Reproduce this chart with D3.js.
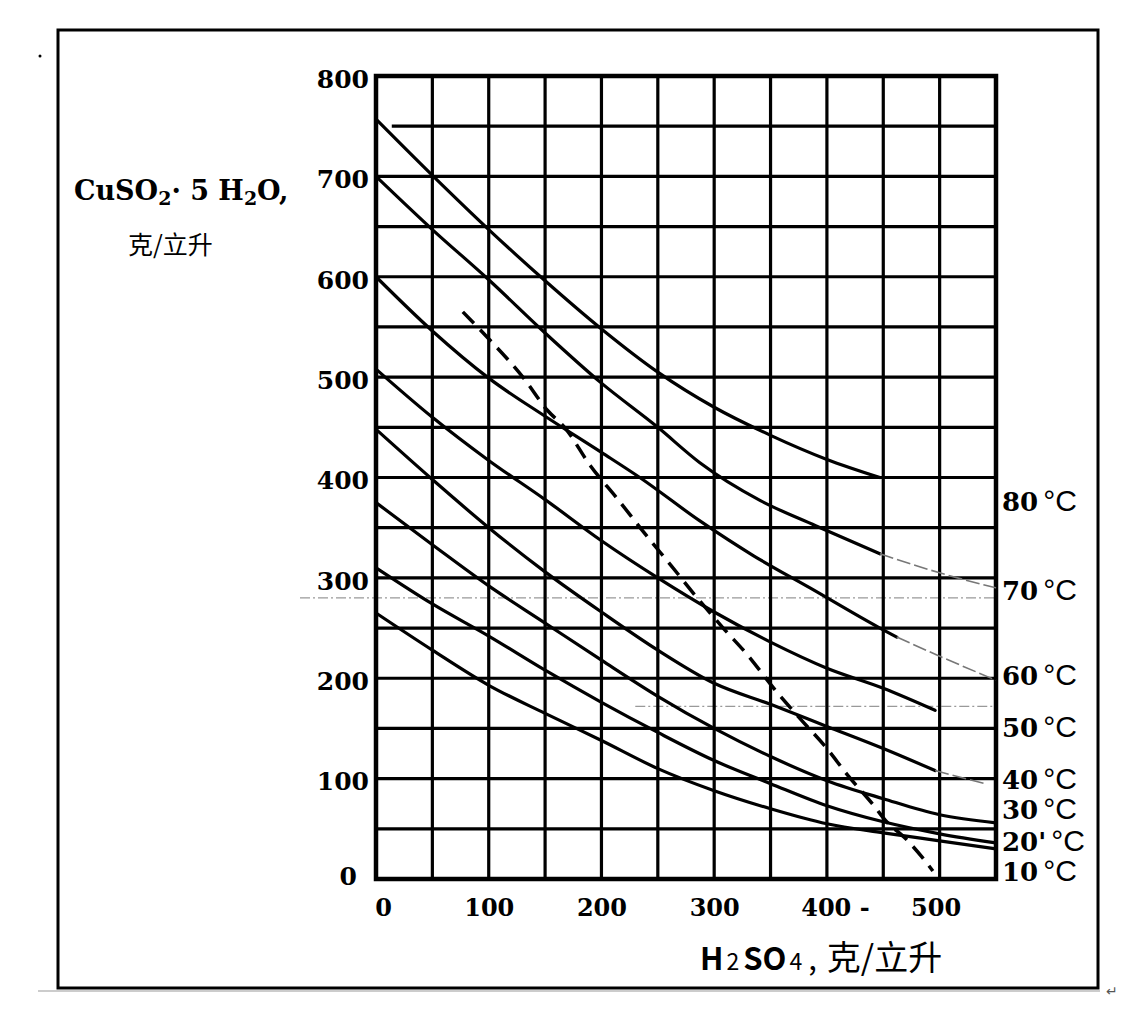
<!DOCTYPE html>
<html><head><meta charset="utf-8">
<script src="https://cdn.jsdelivr.net/npm/d3@7"></script>
<style>html,body{margin:0;padding:0;background:#fff;}svg{display:block;}</style>
</head><body>
<svg id="chart" width="1126" height="1016"></svg>
<script>
// ---- data (x: H2SO4 g/L, y: CuSO4·5H2O g/L) ----
const xTicks = [0, 100, 200, 300, 400, 500];
const xTickLabels = ["0", "100", "200", "300", "400 -", "500"];
const yTicks = [0, 100, 200, 300, 400, 500, 600, 700, 800];
const tempLabels = ["80", "70", "60", "50", "40", "30", "20'", "10"];
const tempLabelValues = [377, 288, 203, 151, 100, 70, 38, 8];

const c80 = [[0,757],[50,701],[100,647],[150,596],[200,548],[250,505],[300,470],[350,442],[400,418],[447,400]];
const c70 = [[0,700],[50,647],[100,597],[150,544],[200,494],[250,450],[287,415],[341,377],[390,352],[447,324]];
const c70tail = [[447,324],[500,305],[550,290]];
const c60 = [[0,600],[50,546],[100,499],[150,461],[200,425],[234,400],[287,357],[335,322],[385,290],[447,250],[462,241]];
const c60tail = [[462,241],[500,222],[550,198]];
const c50 = [[0,508],[50,460],[100,417],[150,378],[200,337],[250,300],[300,266],[350,236],[400,210],[450,190],[496,168]];
const c40 = [[0,448],[50,398],[100,350],[150,306],[200,266],[250,228],[300,195],[350,174],[400,152],[450,130],[496,108]];
const c40tail = [[496,108],[540,95]];
const c30 = [[0,375],[50,333],[100,292],[150,255],[200,218],[250,182],[300,150],[350,122],[400,98],[450,80],[500,64],[550,56]];
const c20 = [[0,310],[50,274],[100,242],[150,208],[200,176],[250,146],[300,118],[350,95],[400,73],[450,57],[500,45],[550,36]];
const c10 = [[0,265],[50,228],[100,193],[150,165],[200,138],[250,110],[300,88],[350,70],[400,55],[450,46],[500,38],[550,30]];
const limitCurve = [[77,565],[101,537],[131,499],[152,467],[168,449],[190,412],[214,379],[240,342],[262,312],[285,280],[308,250],[329,224],[355,187],[376,160],[400,130],[418,104],[441,74],[453,57],[470,40],[485,21],[494,8]];
const scanLines = [280, 172];

// ---- layout ----
const svg = d3.select("#chart");
const x = d3.scaleLinear().domain([0, 550]).range([376, 996]);
const y = d3.scaleLinear().domain([0, 800]).range([879, 76]);

// outer frame
svg.append("rect").attr("x", 58).attr("y", 30).attr("width", 1040).attr("height", 958)
  .attr("fill", "none").attr("stroke", "#000").attr("stroke-width", 3);
svg.append("line").attr("x1", 38).attr("x2", 1100).attr("y1", 991).attr("y2", 991)
  .attr("stroke", "#ccc").attr("stroke-width", 2);
svg.append("text").attr("x", 1106).attr("y", 996).attr("font-size", 14).attr("fill", "#555")
  .attr("font-family", "DejaVu Sans").text("↵");
svg.append("circle").attr("cx", 40).attr("cy", 56).attr("r", 1.5).attr("fill", "#000");

// faint scan lines
svg.append("g").selectAll("line").data(scanLines).join("line")
  .attr("x1", (d,i) => i === 0 ? 300 : x(230)).attr("x2", x(550))
  .attr("y1", d => y(d)).attr("y2", d => y(d))
  .attr("stroke", "#999").attr("stroke-width", 1.3).attr("stroke-dasharray", "10 3 2 3");

// grid
const grid = svg.append("g");
grid.selectAll(".vg").data(d3.range(50, 550, 50)).join("line")
  .attr("x1", d => x(d)).attr("x2", d => x(d)).attr("y1", y(800)).attr("y2", y(0))
  .attr("stroke", "#000").attr("stroke-width", 3.2);
grid.selectAll(".hg").data(d3.range(50, 800, 50)).join("line")
  .attr("x1", d => d === 750 ? x(14) : x(0)).attr("x2", x(550)).attr("y1", d => y(d)).attr("y2", d => y(d))
  .attr("stroke", "#000").attr("stroke-width", 3.2);
// plot border
svg.append("rect").attr("x", x(0)).attr("y", y(800)).attr("width", x(550) - x(0)).attr("height", y(0) - y(800))
  .attr("fill", "none").attr("stroke", "#000").attr("stroke-width", 4.5);

// axes labels via d3 axes
const yAxis = d3.axisLeft(y).tickValues(yTicks).tickSize(0).tickPadding(7).tickFormat(d3.format("d"));
const gy = svg.append("g").attr("transform", `translate(${x(0)},0)`).call(yAxis);
gy.select(".domain").remove();
gy.selectAll("text").attr("font-family", "DejaVu Serif").attr("font-weight", "bold")
  .attr("font-size", 25).attr("fill", "#000").attr("dy", "0.45em");
gy.selectAll(".tick").filter(d => d === 0).select("text").attr("dx", -12).attr("dy", "0.2em");

const xAxis = d3.axisBottom(x).tickValues(xTicks).tickSize(0).tickPadding(20)
  .tickFormat((d, i) => xTickLabels[i]);
const gx = svg.append("g").attr("transform", `translate(0,${y(0)})`).call(xAxis);
gx.select(".domain").remove();
gx.selectAll("text").attr("font-family", "DejaVu Serif").attr("font-weight", "bold")
  .attr("font-size", 24).attr("fill", "#000");
gx.selectAll(".tick").filter(d => d === 0).select("text").attr("dx", 7);
gx.selectAll(".tick").filter(d => d === 400).select("text").attr("dx", 8);
gx.selectAll(".tick").filter(d => d === 500).select("text").attr("dx", -4);

// curves
const line = d3.line().x(d => x(d[0])).y(d => y(d[1])).curve(d3.curveMonotoneX);
const solid = [c80, c70, c60, c50, c40, c30, c20, c10];
svg.append("g").selectAll("path").data(solid).join("path")
  .attr("d", line).attr("fill", "none").attr("stroke", "#000").attr("stroke-width", 3.2)
  .attr("stroke-linecap", "round");
svg.append("g").selectAll("path").data([c70tail, c60tail, c40tail]).join("path")
  .attr("d", line).attr("fill", "none").attr("stroke", "#777").attr("stroke-width", 1.6)
  .attr("stroke-dasharray", "14 4");
svg.append("path").datum(limitCurve).attr("d", line).attr("fill", "none")
  .attr("stroke", "#000").attr("stroke-width", 3.5).attr("stroke-dasharray", "16 9");

// temperature labels
const tl = svg.append("g").selectAll("text").data(tempLabels).join("text")
  .attr("x", 1002).attr("y", (d, i) => y(tempLabelValues[i]) + 10);
tl.append("tspan").attr("font-family", "DejaVu Serif").attr("font-weight", "bold").attr("font-size", 26)
  .text(d => d);
tl.append("tspan").attr("font-family", "Liberation Sans").attr("font-size", 30).attr("dx", 5)
  .text("°C");

// y title
const yt = svg.append("text").attr("x", 74).attr("y", 200).attr("font-family", "DejaVu Serif")
  .attr("font-weight", "bold").attr("font-size", 27).attr("fill", "#000");
yt.append("tspan").text("CuSO");
yt.append("tspan").attr("font-size", 19).attr("dy", 5).text("2");
yt.append("tspan").attr("dy", -5).text("· 5 H");
yt.append("tspan").attr("font-size", 19).attr("dy", 5).text("2");
yt.append("tspan").attr("dy", -5).text("O,");
svg.append("text").attr("x", 128).attr("y", 254).attr("font-family", "Noto Sans CJK SC")
  .attr("font-size", 25).attr("fill", "#000").text("克/立升");

// x title
const xt = svg.append("text").attr("x", 700).attr("y", 970).attr("font-family", "Noto Sans CJK SC")
  .attr("font-size", 31).attr("fill", "#000");
xt.append("tspan").attr("font-weight", "bold").text("H");
xt.append("tspan").attr("font-size", 23).attr("dx", 3).text("2");
xt.append("tspan").attr("font-weight", "bold").attr("dx", 4).text("SO");
xt.append("tspan").attr("font-size", 23).attr("dx", 3).text("4");
xt.append("tspan").attr("dx", 6).text(",");
xt.append("tspan").attr("font-size", 34).attr("dx", 10).text("克/立升");
</script>
</body></html>
